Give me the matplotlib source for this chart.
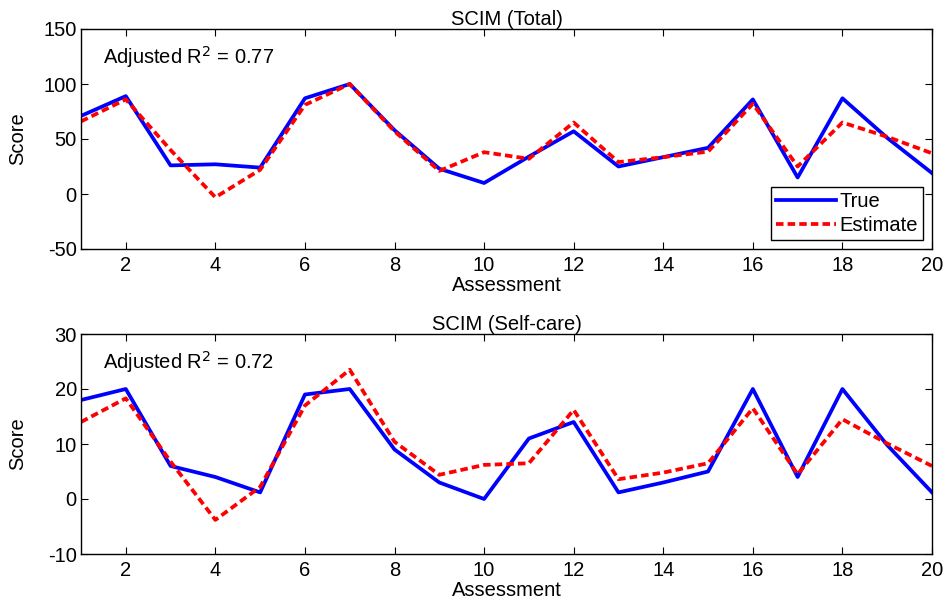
import matplotlib
matplotlib.use("Agg")
import matplotlib.pyplot as plt

plt.rcParams['font.family'] = ['Liberation Sans', 'DejaVu Sans']
plt.rcParams['axes.unicode_minus'] = False

assessment = list(range(1, 21))
total_true = [71, 89, 26, 27, 24, 87, 100, 58, 23, 10, 34, 57, 25, 33.5, 42, 86, 15, 87, 51, 19]
total_est = [66, 86, 40, -3, 22, 81, 100, 57, 21, 38, 32, 65, 29, 33.5, 38.5, 82, 25, 65, 52, 37]
self_true = [18, 20, 6, 4, 1.2, 19, 20, 9, 3, 0, 11, 14, 1.2, 3, 5, 20, 4, 20, 9.8, 1.2]
self_est = [14, 18.3, 6.8, -3.8, 2.2, 17, 23.5, 10.4, 4.4, 6.2, 6.5, 16.2, 3.6, 4.8, 6.5, 16.5, 4.5, 14.5, 10.1, 6]

titles = ["SCIM (Total)", "SCIM (Self-care)"]
r2_labels = ["Adjusted R$^2$ = 0.77", "Adjusted R$^2$ = 0.72"]
xticks = [2, 4, 6, 8, 10, 12, 14, 16, 18, 20]
yticks_total = [-50, 0, 50, 100, 150]
yticks_self = [-10, 0, 10, 20, 30]

fs = 14.5
W, H = 948, 602
fig = plt.figure(figsize=(W / 100, H / 100), dpi=100)

def ax_rect(left, top, right, bottom):
    return [left / W, 1 - bottom / H, (right - left) / W, (bottom - top) / H]

ax1 = fig.add_axes(ax_rect(81, 29, 932, 249))
ax2 = fig.add_axes(ax_rect(81, 334, 932, 554))

data = [(ax1, total_true, total_est, yticks_total),
        (ax2, self_true, self_est, yticks_self)]

for i, (ax, yt, ye, yticks) in enumerate(data):
    ax.plot(assessment, yt, color='#0000ff', lw=2.7, label='True')
    ax.plot(assessment, ye, color='#ff0000', lw=2.7, ls=(0, (2.0, 1.1)), label='Estimate')
    ax.set_xlim(1, 20)
    ax.set_ylim(yticks[0], yticks[-1])
    ax.set_xticks(xticks)
    ax.set_yticks(yticks)
    ax.tick_params(direction='in', length=5, width=0.8, top=True, right=True,
                   labelsize=fs)
    ax.tick_params(axis='x', pad=5)
    ax.tick_params(axis='y', pad=3)
    for s in ax.spines.values():
        s.set_linewidth(1.0)
    ax.set_xlabel('Assessment', fontsize=fs, labelpad=1)
    ax.set_ylabel('Score', fontsize=fs)
    ax.yaxis.set_label_coords(-0.063, 0.5)
    ax.set_title(titles[i], fontsize=fs, pad=3)
    ax.text(0.026, 0.93, r2_labels[i], transform=ax.transAxes, fontsize=fs,
            va='top', ha='left')

leg = ax1.legend(loc='lower right', fontsize=fs, frameon=True, fancybox=False,
                 edgecolor='black', framealpha=1, borderpad=0.25, labelspacing=0.22,
                 handlelength=3.0, handletextpad=0.15, borderaxespad=0.45)
leg.get_frame().set_linewidth(1.0)

fig.savefig('out.png', dpi=100)
